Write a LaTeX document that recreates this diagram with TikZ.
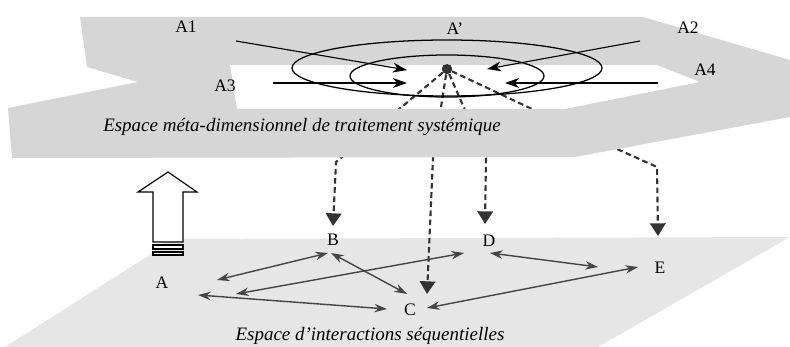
\documentclass[tikz,border=0pt]{standalone}
\usepackage{fontspec}
\setmainfont{Liberation Serif}
\usepackage{tikz}
\usetikzlibrary{arrows.meta,calc}
\definecolor{topplane}{HTML}{D6D6D6}
\definecolor{lowplane}{HTML}{E6E6E6}
\definecolor{linkcol}{HTML}{454545}
\definecolor{feedcol}{HTML}{333333}

\tikzset{
  letter/.style={inner sep=1pt, font=\fontsize{12.5}{14}\selectfont},
  link/.style={linkcol, line width=1pt, {Stealth[length=9pt,width=6pt]}-{Stealth[length=9pt,width=6pt]}},
  feed/.style={feedcol, line width=1.5pt, dash pattern=on 4pt off 2.5pt, -{Triangle[length=9pt,width=11pt]}},
  pull/.style={black, line width=0.8pt, -{Stealth[length=10pt,width=7pt,inset=3pt]}}
}

\begin{document}
\begin{tikzpicture}[x=0.025cm, y=-0.025cm]
\useasboundingbox (0,0) rectangle (790,347);

% lower plane: sequential interactions
\fill[lowplane] (148,256) -- (168,239) -- (790,237) -- (598,347) -- (5,347) -- cycle;
\node[font=\itshape\fontsize{13.5}{15}\selectfont] (lowtitle) at (370,336) {Espace d’interactions séquentielles};

% nodes of the sequence
\foreach \n/\x/\y in {A/162/283, B/333/240, C/410/310, D/489/241, E/660/268}{
  \node[letter] (n\n) at (\x,\y) {\n};
}

% feedback from the hub (drawn first, the upper plane hides the middle part)
\node[circle, fill=black!75, inner sep=0pt, minimum size=0.26cm] (hub) at (447,69) {};
\draw[feed] (hub) -- (336,162) -- ($(nB)+(0,-14)$);
\draw[feed] (hub) -- (433,158) -- ($(nC)+(17,-16)$);
\draw[feed] (hub) -- (486,158) -- ($(nD)+(-4,-17)$);
\draw[feed] (hub) -- (617,149) -- (657,167) -- ($(nE)+(-2,-32)$);

% upper plane with its opening
\fill[topplane, even odd rule]
  (80,17) -- (643,17) -- (790,60) -- (790,117) -- (575,157) -- (12,158) -- (8,108) -- (138,82) -- (87,67) -- cycle
  (230,65) -- (657,65) -- (700,82) -- (565,109) -- (237,109) -- cycle;
\node[font=\itshape\fontsize{13.5}{15}\selectfont] (toptitle) at (302,127) {Espace méta-dimensionnel de traitement systémique};
\fill[feedcol] (hub) circle [radius=5];

% attractor rings around the hub
\draw[black, line width=0.9pt] (447,68) ellipse [x radius=155, y radius=28];
\draw[black, line width=0.9pt] (447,76) ellipse [x radius=97, y radius=21];

% incoming pulls
\node[letter] (a1) at (186,27) {A1};
\node[letter] (a2) at (688,28) {A2};
\node[letter] (a3) at (225,86) {A3};
\node[letter] (a4) at (705,70) {A4};
\node[letter] (ap) at (455,29) {A’};
\coordinate (s1) at (236,41);
\coordinate (s2) at (640,41);
\coordinate (s3) at (273,83);
\coordinate (s4) at (658,83);
\draw[pull] (s1) -- ($(hub)+(-40,1)$);
\draw[pull] (s3) -- ($(hub)+(-40,14)$);
\draw[pull] (s2) -- ($(hub)+(40,0)$);
\draw[pull] (s4) -- ($(hub)+(58,14)$);

% hollow upward arrow
\draw[fill=white, line width=0.8pt] (168,172) -- (197,192) -- (183,192) -- (183,242) -- (153,242) -- (153,192) -- (138,192) -- cycle;
\draw[fill=white, line width=0.8pt] (153,245) rectangle (183,249);
\draw[fill=white, line width=0.8pt] (153,252) rectangle (183,255);

% interactions between the nodes
\draw[link] ($(nA)+(55,-3)$) -- ($(nB)+(-5,13)$);
\draw[link] ($(nA)+(74,11)$) -- ($(nD)+(-25,12)$);
\draw[link] ($(nA)+(36,12)$) -- ($(nC)+(-23,-1)$);
\draw[link] ($(nB)+(-2,13)$) -- ($(nC)+(-3,-16)$);
\draw[link] ($(nD)+(1,12)$) -- ($(nE)+(-62,-1)$);
\draw[link] ($(nC)+(17,-2)$) -- ($(nE)+(-22,-1)$);
\end{tikzpicture}
\end{document}
